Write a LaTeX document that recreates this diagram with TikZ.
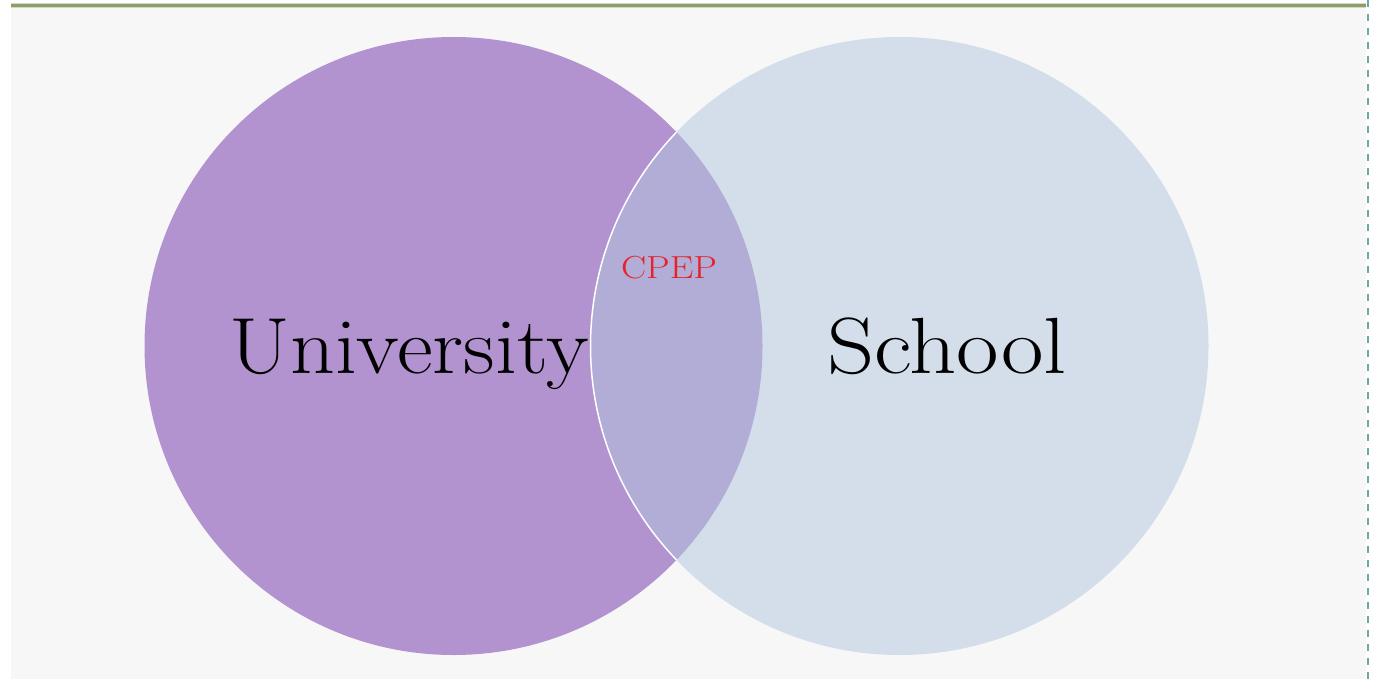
\documentclass[tikz,border=0pt]{standalone}
\usepackage{fontspec}
\begin{document}
\begin{tikzpicture}[x=1bp,y=-1bp,
  univfill/.style={fill=univcol},
  schoolfill/.style={fill=schoolcol},
  bigword/.style={font=\fontsize{80}{90}\selectfont, text=black, anchor=base, inner sep=0pt},
  smallword/.style={font=\fontsize{32}{36}\selectfont, text=cpepred, anchor=base, inner sep=0pt}]
\definecolor{univcol}{HTML}{B293CF}
\definecolor{schoolcol}{HTML}{D3DEEA}
\definecolor{lenscol}{HTML}{B1ADD6}
\definecolor{paper}{HTML}{F7F7F7}
\definecolor{rulegreen}{HTML}{8C9E6A}
\definecolor{dashteal}{HTML}{6FA5A2}
\definecolor{cpepred}{HTML}{E8202A}
% page and slide area
\useasboundingbox (0,0) rectangle (1384,682);
\fill[white] (0,0) rectangle (1384,682);
\fill[paper] (11,8) rectangle (1366,679);
\draw[rulegreen!40, line width=5bp] (11,5.5) -- (1366,5.5);
\draw[rulegreen, line width=2.5bp] (11,5.5) -- (1366,5.5);
\draw[dashteal, line width=2.5bp, dash pattern=on 7bp off 7bp] (1368,0) -- (1368,682);
% the two sets
\coordinate (cu) at (453.5,346);
\coordinate (cs) at (899.5,346);
\fill[univfill] (cu) circle (309);
\fill[schoolfill] (cs) circle (309);
\begin{scope}
  \clip (cu) circle (309);
  \fill[lenscol] (cs) circle (309);
  \draw[white, line width=1.5bp] (cs) circle (309);
\end{scope}
% labels
\node[bigword] (univ) at (409,373) {\scalebox{1.1}[1]{University}};
\node[bigword] (school) at (947,373) {\scalebox{1.16}[1]{School}};
\node[smallword] (cpep) at (669,278) {\scalebox{1.18}[1]{CPEP}};
\end{tikzpicture}
\end{document}
